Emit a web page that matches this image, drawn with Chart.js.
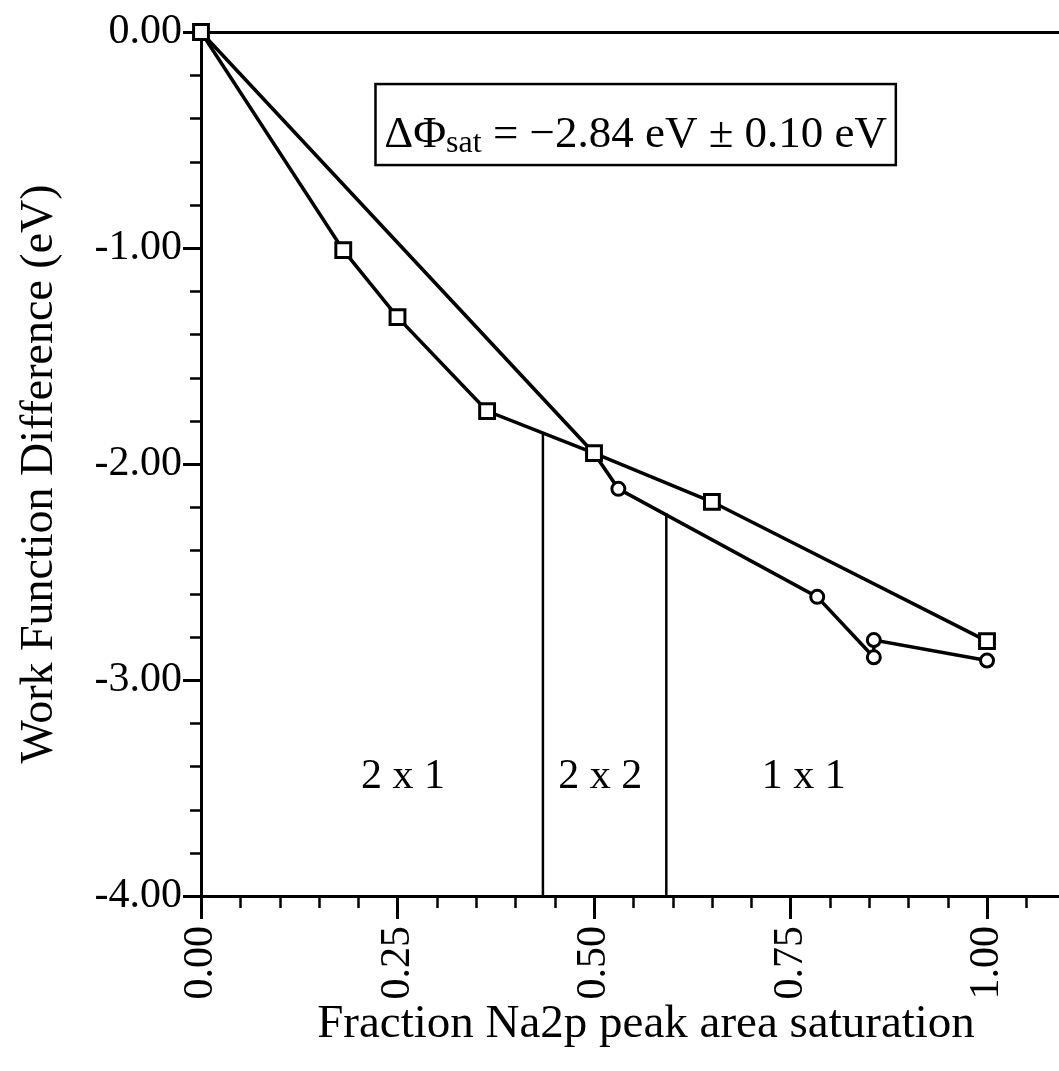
<!DOCTYPE html>
<html><head><meta charset="utf-8">
<script src="https://cdn.jsdelivr.net/npm/chart.js@4/dist/chart.umd.min.js"></script>
<style>html,body{margin:0;padding:0;background:#fff;}canvas{display:block;}</style>
</head><body>
<canvas id="c" width="1059" height="1071"></canvas>
<script>
// ---- data ----
const squareX = [0, 0.181, 0.25, 0.364, 0.50, 0.65, 1.00];
const squareY = [0, -1.01, -1.32, -1.755, -1.95, -2.175, -2.82];
const circleX = [0, 0.50, 0.531, 0.784, 0.856, 0.856, 1.00];
const circleY = [0, -1.95, -2.115, -2.615, -2.895, -2.815, -2.91];
const boundaryX = [0.435, 0.592];
const boundaryTopY = [-1.856, -2.227];
const phaseLabels = ['2 x 1', '2 x 2', '1 x 1'];
const phaseLabelX = [0.257, 0.508, 0.767];
const phaseLabelY = [-3.45, -3.45, -3.45];
const xMajorTicks = [0, 0.25, 0.5, 0.75, 1.0];
const xTickLabels = ['0.00', '0.25', '0.50', '0.75', '1.00'];
const xMinorTicks = [0.05, 0.10, 0.15, 0.20, 0.30, 0.35, 0.40, 0.45, 0.55, 0.60, 0.65, 0.70, 0.80, 0.85, 0.90, 0.95, 1.05];
const yMajorTicks = [0, -1, -2, -3, -4];
const yTickLabels = ['0.00', '-1.00', '-2.00', '-3.00', '-4.00'];
const yMinorTicks = [-0.2, -0.4, -0.6, -0.8, -1.2, -1.4, -1.6, -1.8, -2.2, -2.4, -2.6, -2.8, -3.2, -3.4, -3.6, -3.8];
const xTitle = 'Fraction Na2p peak area saturation';
const yTitle = 'Work Function Difference (eV)';
const boxMain = '\u0394\u03A6';
const boxSub = 'sat';
const boxRest = ' = \u22122.84 eV \u00B1 0.10 eV';

const SERIF = "'Liberation Serif', 'Times New Roman', Times, serif";

const squarePts = squareX.map((x, i) => ({x, y: squareY[i]}));
const circlePts = circleX.map((x, i) => ({x, y: circleY[i]}));
const boundarySets = boundaryX.map((x, i) => ({
  data: [{x, y: -4}, {x, y: boundaryTopY[i]}],
  borderColor: '#000', borderWidth: 2.5, pointRadius: 0, showLine: true, fill: false
}));

const decor = {
  id: 'decor',
  afterDraw(chart) {
    const {ctx, chartArea, scales: {x, y}} = chart;
    ctx.save();
    ctx.strokeStyle = '#000';
    ctx.fillStyle = '#000';
    // minor ticks
    ctx.lineWidth = 2.5;
    ctx.beginPath();
    xMinorTicks.forEach(v => {
      const px = Math.round(x.getPixelForValue(v)) + 0.5;
      ctx.moveTo(px, chartArea.bottom);
      ctx.lineTo(px, chartArea.bottom + 12);
    });
    yMinorTicks.forEach(v => {
      const py = Math.round(y.getPixelForValue(v)) + 0.5;
      ctx.moveTo(chartArea.left - 11, py);
      ctx.lineTo(chartArea.left, py);
    });
    ctx.stroke();
    // phase labels
    ctx.font = '42px ' + SERIF;
    ctx.textAlign = 'center';
    ctx.textBaseline = 'middle';
    phaseLabels.forEach((t, i) => {
      ctx.fillText(t, x.getPixelForValue(phaseLabelX[i]), y.getPixelForValue(phaseLabelY[i]));
    });
    // axis titles
    ctx.font = '47px ' + SERIF;
    ctx.fillText(xTitle, 646, 1025);
    ctx.save();
    ctx.translate(40, 474);
    ctx.rotate(-Math.PI / 2);
    ctx.font = '46px ' + SERIF;
    ctx.fillText(yTitle, 0, 0);
    ctx.restore();
    // annotation box
    const bl = x.getPixelForValue(0.222), br = x.getPixelForValue(0.884);
    const bt = y.getPixelForValue(-0.241), bb = y.getPixelForValue(-0.616);
    ctx.lineWidth = 2.5;
    ctx.strokeRect(bl, bt, br - bl, bb - bt);
    const mainFont = '45px ' + SERIF, subFont = '32px ' + SERIF;
    ctx.font = mainFont; const w1 = ctx.measureText(boxMain).width; const w3 = ctx.measureText(boxRest).width;
    ctx.font = subFont; const w2 = ctx.measureText(boxSub).width;
    const total = w1 + w2 + w3;
    let tx = (bl + br) / 2 - total / 2;
    const base = bb - 18;
    ctx.textAlign = 'left';
    ctx.textBaseline = 'alphabetic';
    ctx.font = mainFont; ctx.fillText(boxMain, tx, base); tx += w1;
    ctx.font = subFont; ctx.fillText(boxSub, tx, base + 5); tx += w2;
    ctx.font = mainFont; ctx.fillText(boxRest, tx, base);
    ctx.restore();
  }
};

new Chart(document.getElementById('c'), {
  type: 'scatter',
  data: {
    datasets: [
      { data: squarePts, showLine: true, clip: false, borderColor: '#000', borderWidth: 3.5,
        pointStyle: 'rect', pointRadius: 10.5, pointBorderWidth: 3, pointBackgroundColor: '#fff', pointBorderColor: '#000' },
      { data: circlePts, showLine: true, clip: false, borderColor: '#000', borderWidth: 3.5,
        pointStyle: 'circle', pointRadius: 6.5, pointBorderWidth: 3, pointBackgroundColor: '#fff', pointBorderColor: '#000' },
      ...boundarySets
    ]
  },
  options: {
    responsive: false,
    animation: false,
    devicePixelRatio: 1,
    layout: { autoPadding: false, padding: { top: 32, right: 0, left: 0, bottom: 0 } },
    plugins: { legend: { display: false }, tooltip: { enabled: false } },
    scales: {
      x: {
        type: 'linear', min: 0, max: 1.0916,
        afterBuildTicks: s => { s.ticks = xMajorTicks.map(v => ({value: v})); },
        afterFit: s => { s.height = 175; },
        border: { display: true, color: '#000', width: 3 },
        grid: { drawOnChartArea: false, drawTicks: true, tickLength: 23, tickWidth: 3, tickColor: '#000' },
        ticks: { autoSkip: false, maxRotation: 90, minRotation: 90, padding: 7, color: '#000',
          font: { family: SERIF, size: 42 }, callback: (v, i) => xTickLabels[i] },
        title: { display: false }
      },
      y: {
        type: 'linear', min: -4, max: 0,
        afterBuildTicks: s => { s.ticks = yMajorTicks.map(v => ({value: v})); },
        afterFit: s => { s.width = 201; },
        border: { display: true, color: '#000', width: 3 },
        grid: { drawOnChartArea: true, drawTicks: true, tickLength: 18, tickWidth: 3, tickColor: '#000',
          lineWidth: 3, color: c => (c.tick && c.tick.value === 0) ? '#000' : 'rgba(0,0,0,0)' },
        ticks: { padding: 1, color: '#000', font: { family: SERIF, size: 42 }, callback: (v, i) => yTickLabels[i] },
        title: { display: false }
      }
    }
  },
  plugins: [decor]
});
</script>
</body></html>
